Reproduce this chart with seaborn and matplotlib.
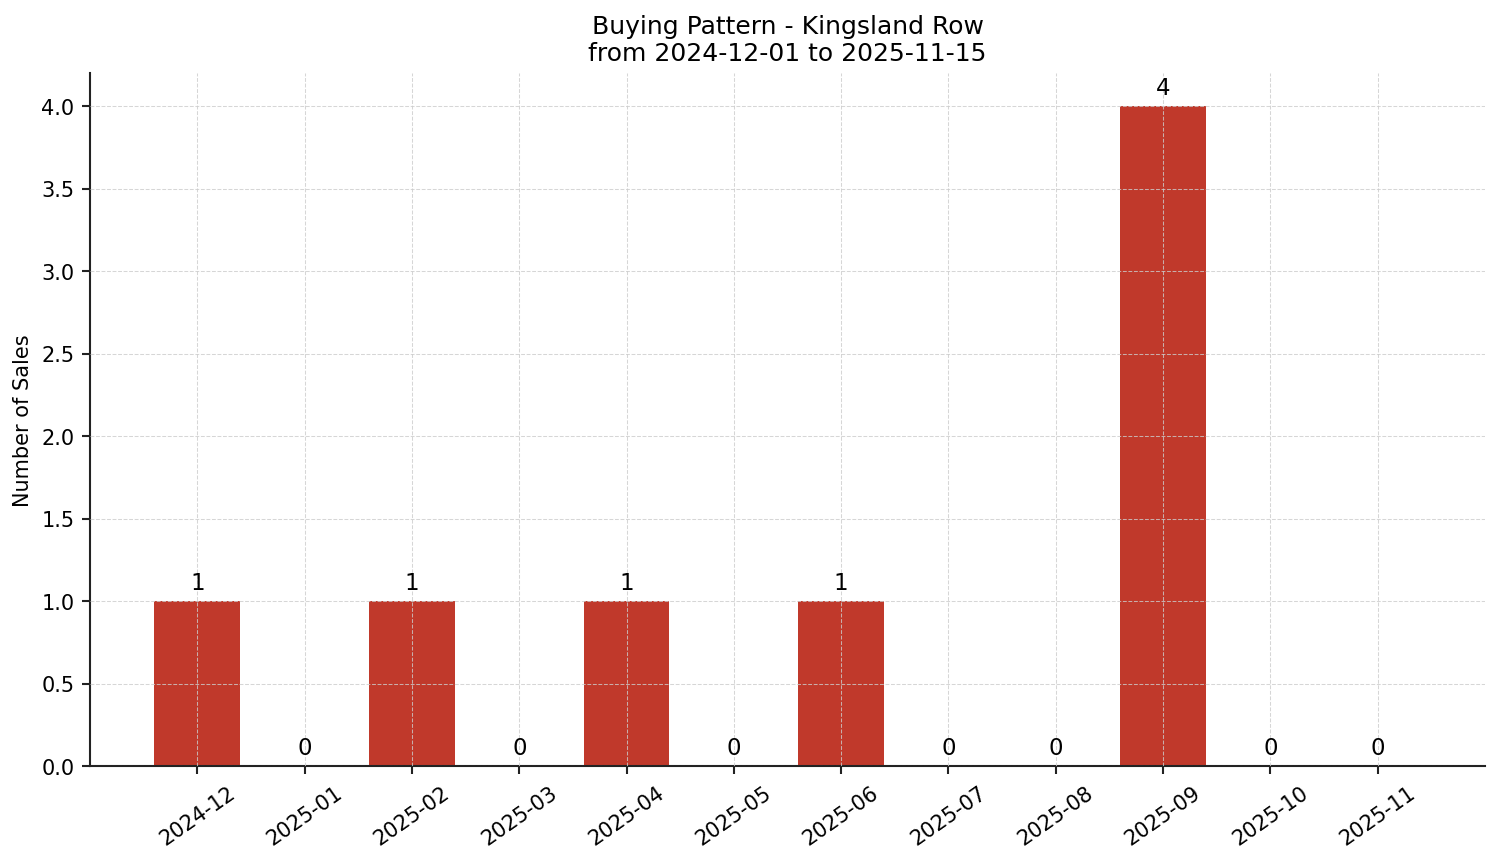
import matplotlib
matplotlib.use("Agg")
import matplotlib.pyplot as plt
import seaborn as sns
import pandas as pd

months = ["2024-12", "2025-01", "2025-02", "2025-03", "2025-04", "2025-05",
          "2025-06", "2025-07", "2025-08", "2025-09", "2025-10", "2025-11"]
sales = [1, 0, 1, 0, 1, 0, 1, 0, 0, 4, 0, 0]

sns.set_theme(style="white")
plt.rcParams['font.family'] = ['DejaVu Sans']
plt.rcParams['text.color'] = 'black'
plt.rcParams['axes.labelcolor'] = 'black'

df = pd.DataFrame({"month": months, "sales": sales})

fig, ax = plt.subplots(figsize=(10.007, 5.753), dpi=150)
sns.barplot(data=df, x="month", y="sales", color="#c0392b", saturation=1,
            width=0.8, linewidth=0, ax=ax)

for i, v in enumerate(sales):
    ax.text(i, v + 0.04, str(v), ha="center", va="bottom", fontsize=11, color="black")

ax.set_xlim(-1, 12)
ax.set_ylim(0, 4.2)
ax.set_xlabel("")
ax.set_ylabel("Number of Sales", fontsize=10, color="black")
ax.set_title("Buying Pattern - Kingsland Row\nfrom 2024-12-01 to 2025-11-15", fontsize=12, color="black")
ax.set_axisbelow(False)
ax.grid(True, linestyle="--", linewidth=0.5, color="#cccccc", alpha=0.8)
sns.despine(ax=ax)
for s in ["left", "bottom"]:
    ax.spines[s].set_color("#222222")
    ax.spines[s].set_linewidth(1.0)
ax.tick_params(axis="both", which="both", length=4, width=1, color="#222222",
               labelsize=10, bottom=True, left=True, labelcolor="black")
plt.setp(ax.get_xticklabels(), rotation=35, ha="center")

fig.subplots_adjust(left=0.060, right=0.9893, top=0.9143, bottom=0.1112)
fig.savefig("out.png", dpi=150)
